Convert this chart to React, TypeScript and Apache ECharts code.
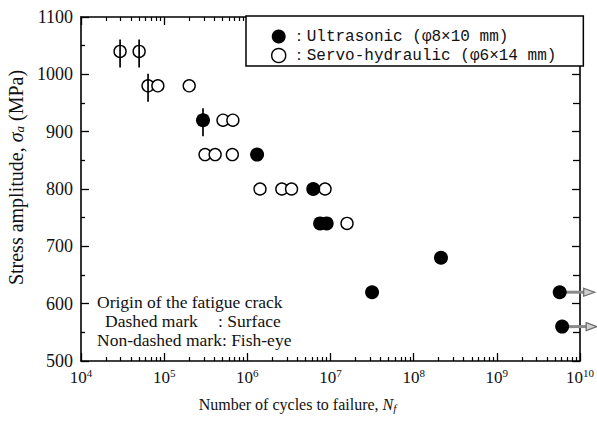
import React, { useEffect, useRef } from "react";
import * as echarts from "echarts";

// Number of cycles to failure (Nf) vs stress amplitude (MPa)
const servoHydraulic: [number, number][] = [
  [2.95e4, 1040], [5.0e4, 1040],
  [6.4e4, 980], [8.4e4, 980], [2.0e5, 980],
  [5.1e5, 920], [6.7e5, 920],
  [3.1e5, 860], [4.1e5, 860], [6.6e5, 860],
  [1.42e6, 800], [2.6e6, 800], [3.4e6, 800], [8.6e6, 800],
  [1.58e7, 740],
];
const ultrasonic: [number, number][] = [
  [2.93e5, 920], [1.31e6, 860], [6.2e6, 800],
  [7.5e6, 740], [9.0e6, 740],
  [3.16e7, 620], [2.13e8, 680],
  [5.7e9, 620], [6.1e9, 560],
];
// dashed marks: crack origin at the surface
const surfaceOrigin: [number, number][] = [
  [2.95e4, 1040], [5.0e4, 1040], [6.4e4, 980], [2.93e5, 920],
];
// run-outs (arrows)
const runOuts: [number, number][] = [[5.7e9, 620], [6.1e9, 560]];

const xRange = { min: 1e4, max: 1e10 };
const yTicks = { min: 500, max: 1100, interval: 100 };

const legendNames = [
  "：Ultrasonic (φ8×10 mm)",
  "：Servo-hydraulic (φ6×14 mm)",
];
const noteLines = ["Origin of the fatigue crack", "Dashed mark", ": Surface", "Non-dashed mark: Fish-eye"];

const serif = "'Liberation Serif', 'Times New Roman', serif";

export default function App() {
  const ref = useRef<HTMLDivElement>(null);
  useEffect(() => {
    if (!ref.current) return;
    const chart = echarts.init(ref.current, undefined, { renderer: "svg" });

    const frameLine = { show: true, onZero: false, lineStyle: { color: "#000", width: 1.6 } };
    const majorTick = { show: true, inside: true, length: 8, lineStyle: { color: "#000", width: 1.3 } };
    const xMinor = { show: true, splitNumber: 9, length: 4, lineStyle: { color: "#000", width: 1.2 } };
    const xLabelRich = {
      b: { fontFamily: serif, fontSize: 17, color: "#111" },
      sup: { fontFamily: serif, fontSize: 11, color: "#111", padding: [0, 0, 9, 0] },
    };
    const option: any = {
      animation: false,
      backgroundColor: "#fff",
      grid: { left: 81, right: 17, top: 17, bottom: 60, containLabel: false, outerBoundsMode: "none" },
      legend: {
        left: 246,
        top: 16,
        orient: "vertical",
        backgroundColor: "#fff",
        borderColor: "#000",
        borderWidth: 1.5,
        borderRadius: 0,
        padding: [12, 27, 2, 25],
        itemGap: 2,
        itemWidth: 14,
        itemHeight: 14,
        textStyle: { fontFamily: "'Liberation Mono', 'DejaVu Sans Mono', monospace", fontSize: 16, lineHeight: 17, color: "#111" },
        data: [
          { name: legendNames[0], icon: "circle", itemStyle: { color: "#000", borderWidth: 0 } },
          { name: legendNames[1], icon: "circle", itemStyle: { color: "#fff", borderColor: "#000", borderWidth: 1.4 } },
        ],
      },
      xAxis: [
        {
          type: "log",
          logBase: 10,
          min: xRange.min,
          max: xRange.max,
          splitNumber: 6,
          position: "bottom",
          axisLine: frameLine,
          axisTick: majorTick,
          minorTick: xMinor,
          splitLine: { show: false },
          axisLabel: {
            margin: 6,
            showMinLabel: true,
            showMaxLabel: true,
            formatter: (v: number) => `{b|10}{sup|${Math.round(Math.log10(v))}}`,
            rich: xLabelRich,
          },
          name: "Number of cycles to failure, {i|N}{sub|f}",
          nameLocation: "middle",
          nameGap: 35,
          nameTextStyle: {
            fontFamily: serif,
            fontSize: 16,
            color: "#111",
            padding: [0, 66, 0, 0],
            rich: {
              i: { fontFamily: serif, fontSize: 16, fontStyle: "italic", color: "#111" },
              sub: { fontFamily: serif, fontSize: 11, fontStyle: "italic", color: "#111", padding: [6, 0, 0, 0] },
            },
          },
        },
        {
          type: "log",
          logBase: 10,
          min: xRange.min,
          max: xRange.max,
          splitNumber: 6,
          position: "top",
          axisLine: frameLine,
          axisTick: majorTick,
          minorTick: xMinor,
          splitLine: { show: false },
          axisLabel: { show: false },
        },
      ],
      yAxis: [
        {
          type: "value",
          min: yTicks.min,
          max: yTicks.max,
          interval: yTicks.interval,
          position: "left",
          axisLine: frameLine,
          axisTick: majorTick,
          minorTick: { show: true, splitNumber: 2, length: 4, lineStyle: { color: "#000", width: 1.3 } },
          splitLine: { show: false },
          axisLabel: { margin: 8, fontFamily: serif, fontSize: 18, color: "#111", formatter: (v: number) => String(v) },
          name: "Stress amplitude, {i|σ}{sub|a} (MPa)",
          nameLocation: "middle",
          nameRotate: 90,
          nameGap: 48,
          nameTextStyle: {
            fontFamily: serif,
            fontSize: 20,
            color: "#111",
            padding: [0, 0, 0, 23],
            rich: {
              i: { fontFamily: serif, fontSize: 20, fontStyle: "italic", color: "#111" },
              sub: { fontFamily: serif, fontSize: 13, fontStyle: "italic", color: "#111", padding: [7, 0, 0, 0] },
            },
          },
        },
        {
          type: "value",
          min: yTicks.min,
          max: yTicks.max,
          interval: yTicks.interval,
          position: "right",
          axisLine: frameLine,
          axisTick: majorTick,
          minorTick: { show: true, splitNumber: 2, length: 7, lineStyle: { color: "#000", width: 1.3 } },
          splitLine: { show: false },
          axisLabel: { show: false },
        },
      ],
      series: [
        {
          name: "runOutArrows",
          type: "custom",
          silent: true,
          clip: false,
          z: 2,
          data: runOuts,
          renderItem: (_p: any, api: any) => {
            const p = api.coord([api.value(0), api.value(1)]);
            return {
              type: "group",
              children: [
                { type: "line", shape: { x1: p[0] + 6, y1: p[1], x2: p[0] + 25, y2: p[1] }, style: { stroke: "#8a8a8a", lineWidth: 3 } },
                {
                  type: "polygon",
                  shape: { points: [[p[0] + 24, p[1] - 4], [p[0] + 35, p[1]], [p[0] + 24, p[1] + 4]] },
                  style: { fill: "#d0d0d0", stroke: "#6a6a6a", lineWidth: 1.2 },
                },
              ],
            };
          },
        },
        {
          name: legendNames[1],
          type: "scatter",
          symbol: "circle",
          symbolSize: 12,
          z: 3,
          itemStyle: { color: "#fff", borderColor: "#000", borderWidth: 1.4, opacity: 1 },
          data: servoHydraulic,
        },
        {
          name: legendNames[0],
          type: "scatter",
          symbol: "circle",
          symbolSize: 14,
          z: 4,
          itemStyle: { color: "#000", borderWidth: 0, opacity: 1 },
          data: ultrasonic,
        },
        {
          name: "surfaceMarks",
          type: "scatter",
          symbol: "rect",
          symbolSize: [1.7, 28],
          symbolOffset: [0, 2],
          z: 5,
          silent: true,
          itemStyle: { color: "#000", opacity: 1 },
          data: surfaceOrigin,
        },
      ],
      graphic: [
        { type: "text", left: 97, top: 293, style: { text: noteLines[0], font: `17.5px ${serif}`, fill: "#111" } },
        { type: "text", left: 105, top: 312, style: { text: noteLines[1], font: `17.5px ${serif}`, fill: "#111" } },
        { type: "text", left: 218, top: 312, style: { text: noteLines[2], font: `17.5px ${serif}`, fill: "#111" } },
        { type: "text", left: 97, top: 331, style: { text: noteLines[3], font: `17.5px ${serif}`, fill: "#111" } },
      ],
    };
    chart.setOption(option);
    return () => chart.dispose();
  }, []);
  return <div ref={ref} style={{ width: 597, height: 421, position: "absolute", left: 0, top: 0 }} />;
}
